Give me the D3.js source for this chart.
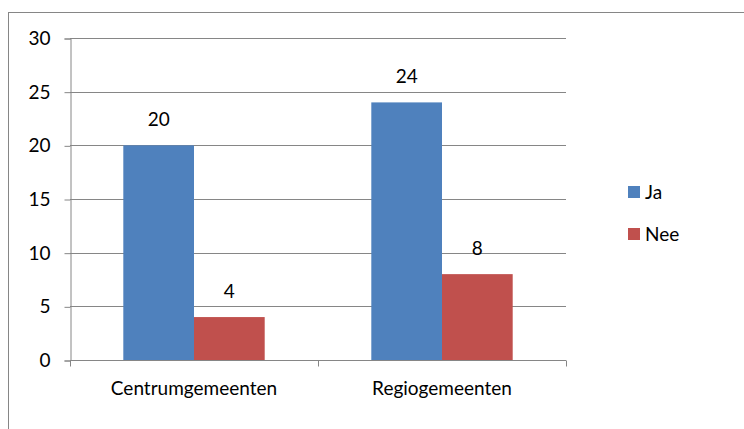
<!DOCTYPE html>
<html><head><meta charset="utf-8">
<script src="https://cdn.jsdelivr.net/npm/d3@7"></script>
<style>body{margin:0;background:#fff;} text{font-family:Lato, "Open Sans", sans-serif;fill:#000;}</style>
</head><body>
<svg id="c" width="744" height="429"></svg>
<script>
const categories = ["Centrumgemeenten", "Regiogemeenten"];
const seriesNames = ["Ja", "Nee"];
const ja = [20, 24];
const nee = [4, 8];
const yTicks = [0, 5, 10, 15, 20, 25, 30];
const colors = ["#4F81BD", "#C0504D"];

const svg = d3.select("#c");
const pL = 70, pR = 566, pT = 38, pB = 360;
const fs = "19px";

// outer border (top and left visible)
svg.append("rect").attr("x", 8.5).attr("y", 12.5).attr("width", 800).attr("height", 500)
  .attr("fill", "none").attr("stroke", "#868686").attr("stroke-width", 1);

const y = d3.scaleLinear().domain([0, 30]).range([pB, pT]);
const x = d3.scaleBand().domain(categories).range([pL, pR]).paddingInner(0).paddingOuter(0);
const inner = d3.scaleBand().domain(seriesNames).range([0, x.bandwidth()]).paddingOuter(0.754).paddingInner(0);

// gridlines
svg.append("g").selectAll("line").data(yTicks.filter(d => d > 0)).join("line")
  .attr("x1", pL).attr("x2", pR)
  .attr("y1", d => Math.round(y(d)) + 0.5).attr("y2", d => Math.round(y(d)) + 0.5)
  .attr("stroke", "#868686").attr("stroke-width", 1);

// y axis
const ya = svg.append("g").attr("transform", `translate(${pL + 0.5},0.5)`)
  .call(d3.axisLeft(y).tickValues(yTicks).tickSize(6).tickPadding(14));
ya.select(".domain").attr("stroke", "#868686");
ya.selectAll(".tick line").attr("stroke", "#868686");
ya.selectAll("text").style("font-size", fs).attr("fill", "#000");

const data = categories.map((c, i) => ({cat: c, vals: [ja[i], nee[i]]}));
const groups = svg.append("g").selectAll("g").data(data).join("g")
  .attr("transform", d => `translate(${x(d.cat)},0)`);
groups.selectAll("rect").data(d => d.vals.map((v, j) => ({v, s: seriesNames[j], j}))).join("rect")
  .attr("x", d => inner(d.s)).attr("width", inner.bandwidth())
  .attr("y", d => y(d.v)).attr("height", d => pB - y(d.v))
  .attr("fill", d => colors[d.j]);
groups.selectAll("text.lbl").data(d => d.vals.map((v, j) => ({v, s: seriesNames[j], j}))).join("text")
  .attr("class", "lbl")
  .attr("x", d => inner(d.s) + inner.bandwidth() / 2).attr("y", d => y(d.v) - 19)
  .attr("text-anchor", "middle").style("font-size", fs).text(d => d.v);

// x axis
const xa = svg.append("g").attr("transform", `translate(0,${pB + 0.5})`);
xa.append("line").attr("x1", pL).attr("x2", pR).attr("stroke", "#868686");
const xTickPos = [pL, ...categories.map(c => x(c) + x.bandwidth())];
xa.selectAll("line.t").data(xTickPos).join("line").attr("class", "t")
  .attr("x1", d => Math.round(d) + 0.5).attr("x2", d => Math.round(d) + 0.5)
  .attr("y1", 0).attr("y2", 6).attr("stroke", "#868686");
xa.selectAll("text").data(categories).join("text")
  .attr("x", d => x(d) + x.bandwidth() / 2).attr("y", 34)
  .attr("text-anchor", "middle").style("font-size", fs).text(d => d);

// legend
const lg = svg.append("g").selectAll("g").data(seriesNames).join("g")
  .attr("transform", (d, i) => `translate(628,${186 + i * 42})`);
lg.append("rect").attr("width", 12).attr("height", 12).attr("fill", (d, i) => colors[i]);
lg.append("text").attr("x", 17).attr("y", 13).style("font-size", fs).text(d => d);
</script>
</body></html>
